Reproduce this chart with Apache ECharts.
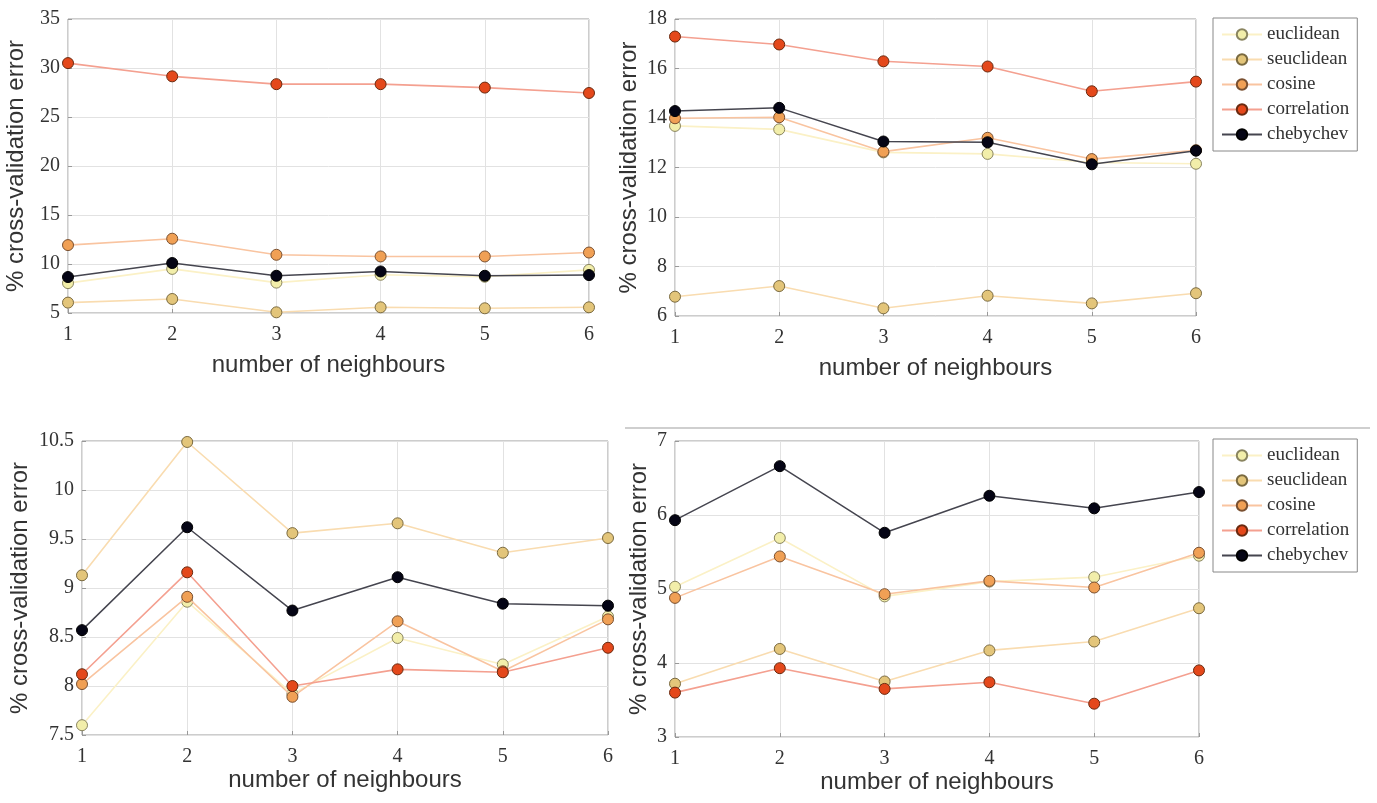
<!DOCTYPE html>
<html>
<head>
<meta charset="utf-8">
<script src="https://cdn.jsdelivr.net/npm/echarts@6/dist/echarts.min.js"></script>
<style>html,body{margin:0;padding:0;background:#fff;}#c{width:1377px;height:803px;}</style>
</head>
<body>
<div id="c"></div>
<script>
const neighbours = [1, 2, 3, 4, 5, 6];
const metricNames = ['euclidean', 'seuclidean', 'cosine', 'correlation', 'chebychev'];

// Panel 1 (top-left)
const p1_euclidean   = [8.05, 9.5, 8.1, 8.9, 8.7, 9.4];
const p1_seuclidean  = [6.06, 6.43, 5.07, 5.58, 5.48, 5.58];
const p1_cosine      = [11.93, 12.58, 10.94, 10.77, 10.77, 11.17];
const p1_correlation = [30.5, 29.15, 28.35, 28.35, 28.0, 27.45];
const p1_chebychev   = [8.67, 10.1, 8.8, 9.24, 8.8, 8.87];

// Panel 2 (top-right)
const p2_euclidean   = [13.68, 13.54, 12.61, 12.55, 12.2, 12.15];
const p2_seuclidean  = [6.78, 7.21, 6.31, 6.82, 6.51, 6.92];
const p2_cosine      = [13.99, 14.03, 12.64, 13.2, 12.34, 12.7];
const p2_correlation = [17.29, 16.97, 16.29, 16.08, 15.08, 15.47];
const p2_chebychev   = [14.28, 14.41, 13.05, 13.02, 12.13, 12.68];

// Panel 3 (bottom-left)
const p3_euclidean   = [7.6, 8.86, 7.92, 8.49, 8.22, 8.71];
const p3_seuclidean  = [9.13, 10.49, 9.56, 9.66, 9.36, 9.51];
const p3_cosine      = [8.02, 8.91, 7.89, 8.66, 8.15, 8.68];
const p3_correlation = [8.12, 9.16, 8.0, 8.17, 8.14, 8.39];
const p3_chebychev   = [8.57, 9.62, 8.77, 9.11, 8.84, 8.82];

// Panel 4 (bottom-right)
const p4_euclidean   = [5.03, 5.69, 4.9, 5.1, 5.16, 5.45];
const p4_seuclidean  = [3.72, 4.19, 3.75, 4.17, 4.29, 4.74];
const p4_cosine      = [4.88, 5.44, 4.93, 5.11, 5.02, 5.49];
const p4_correlation = [3.6, 3.93, 3.65, 3.74, 3.45, 3.9];
const p4_chebychev   = [5.93, 6.66, 5.76, 6.26, 6.09, 6.31];

const yTicks = [
  {min: 5, max: 35, interval: 5},
  {min: 6, max: 18, interval: 2},
  {min: 7.5, max: 10.5, interval: 0.5},
  {min: 3, max: 7, interval: 1}
];

const panels = [
  [p1_euclidean, p1_seuclidean, p1_cosine, p1_correlation, p1_chebychev],
  [p2_euclidean, p2_seuclidean, p2_cosine, p2_correlation, p2_chebychev],
  [p3_euclidean, p3_seuclidean, p3_cosine, p3_correlation, p3_chebychev],
  [p4_euclidean, p4_seuclidean, p4_cosine, p4_correlation, p4_chebychev]
];

const markerColors = ['#f2eeaa', '#e3c57a', '#f0a055', '#e4481b', '#050515'];
const lineColors   = ['#fbf1c6', '#f9dcb0', '#f9c4a0', '#f4a090', '#45454f'];
const borderColors = ['#8a8560', '#7a6a40', '#7a5030', '#6a2a10', '#000000'];

const grids = [
  {left: 68, top: 19, width: 521, height: 294},
  {left: 675, top: 19, width: 521, height: 297},
  {left: 82, top: 441, width: 526, height: 294},
  {left: 675, top: 441, width: 524, height: 296}
];
const xNameGaps = [40, 40, 32, 33];
const yNameGaps = [40, 34, 50, 24];

const serif = '"Liberation Serif", "DejaVu Serif", serif';
const sans = '"Liberation Sans", Arial, sans-serif';

const xAxes = grids.map((g, i) => ({
  gridIndex: i, type: 'value', min: 1, max: 6, interval: 1,
  name: 'number of neighbours', nameLocation: 'middle', nameGap: xNameGaps[i],
  nameTextStyle: {fontFamily: sans, fontSize: 24, color: '#333'},
  axisLine: {show: false}, axisTick: {show: true, inside: true, length: 4, lineStyle: {color: '#999'}},
  axisLabel: {fontFamily: serif, fontSize: 20, color: '#333', margin: 12,
    formatter: v => String(neighbours[v - 1] !== undefined ? neighbours[v - 1] : v)},
  splitLine: {show: true, lineStyle: {color: '#e2e2e2', width: 1}}
}));

const yAxes = grids.map((g, i) => ({
  gridIndex: i, type: 'value', min: yTicks[i].min, max: yTicks[i].max, interval: yTicks[i].interval,
  name: '% cross-validation error', nameLocation: 'middle', nameGap: yNameGaps[i],
  nameTextStyle: {fontFamily: sans, fontSize: 24, color: '#333'},
  axisLine: {show: false}, axisTick: {show: true, inside: true, length: 4, lineStyle: {color: '#999'}},
  axisLabel: {fontFamily: serif, fontSize: 20, color: '#333', margin: 8},
  splitLine: {show: true, lineStyle: {color: '#e2e2e2', width: 1}}
}));

const series = [];
panels.forEach((pd, pi) => {
  pd.forEach((vals, mi) => {
    series.push({
      name: metricNames[mi], type: 'line', xAxisIndex: pi, yAxisIndex: pi,
      data: vals.map((v, k) => [neighbours[k], v]),
      symbol: 'circle', symbolSize: 11,
      lineStyle: {color: lineColors[mi], width: mi === 4 ? 1.5 : 1.6},
      itemStyle: {color: markerColors[mi], borderColor: borderColors[mi], borderWidth: 1},
      emphasis: {disabled: true}, z: 2 + mi, animation: false
    });
  });
});

const legendBase = {
  orient: 'vertical', left: 1213, data: metricNames,
  backgroundColor: '#fff', borderColor: '#888', borderWidth: 1,
  padding: [7, 8, 7, 8], itemGap: 6, itemWidth: 40, itemHeight: 13,
  textStyle: {fontFamily: serif, fontSize: 19, color: '#333', lineHeight: 19},
  selectedMode: false
};

const chart = echarts.init(document.getElementById('c'), null, {renderer: 'canvas'});
chart.setOption({
  backgroundColor: '#fff',
  animation: false,
  grid: grids.map(g => Object.assign({show: true, borderColor: '#9a9a9a', borderWidth: 1, backgroundColor: 'transparent'}, g)),
  xAxis: xAxes,
  yAxis: yAxes,
  legend: [Object.assign({top: 18}, legendBase), Object.assign({top: 439}, legendBase)],
  graphic: [{type: 'line', shape: {x1: 625, y1: 428, x2: 1370, y2: 428}, style: {stroke: '#cfcfcf', lineWidth: 2}}],
  series: series
});
</script>
</body>
</html>
